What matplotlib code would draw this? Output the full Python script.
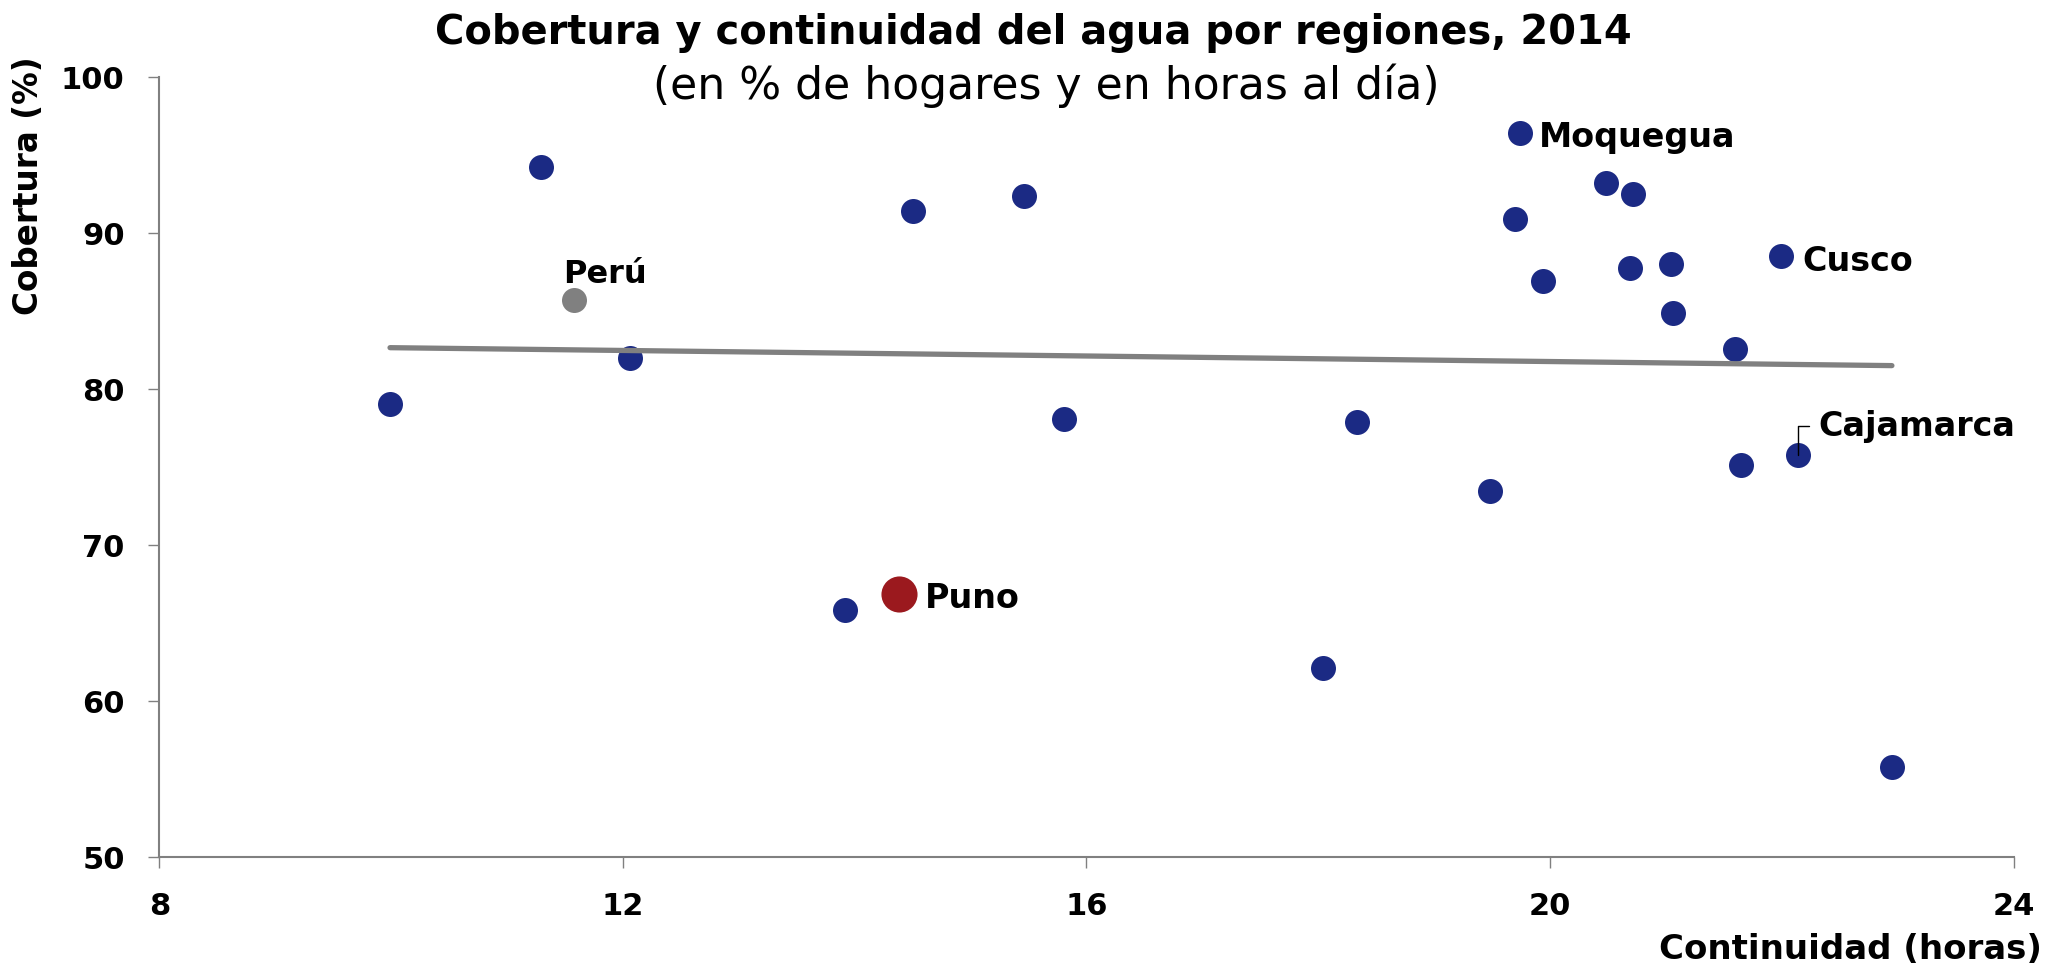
import matplotlib
matplotlib.use("Agg")
import matplotlib.pyplot as plt

plt.rcParams['font.family'] = ['DejaVu Sans']

# continuity (hours/day) and coverage (% households) by region
horas = [11.29, 14.50, 12.06, 15.46, 19.74, 20.48, 20.72, 19.70, 21.99, 21.04,
         20.69, 19.94, 21.06, 21.60, 15.81, 18.33, 19.48, 21.65, 22.14, 9.99,
         13.92, 18.04, 22.95]
cobertura = [94.24, 91.42, 81.98, 92.36, 96.43, 93.22, 92.51, 90.93, 88.51, 88.04,
             87.74, 86.93, 84.90, 82.55, 78.05, 77.88, 73.47, 75.10, 75.74, 79.06,
             65.85, 62.09, 55.76]
regiones = ['', '', '', '', 'Moquegua', '', '', '', 'Cusco', '',
            '', '', '', '', '', '', '', '', 'Cajamarca', '',
            '', '', '']

# national average and Puno highlighted
peru_x, peru_y = 11.58, 85.73
puno_x, puno_y = 14.38, 66.86

# linear trend
trend_x = [9.99, 22.95]
trend_y = [82.65, 81.50]

azul = '#1B2A84'
rojo = '#9B191E'
gris = '#808080'

fig = plt.figure(figsize=(20.65, 9.76), dpi=100)
ax = fig.add_axes([0.0772, 0.1219, 0.8979, 0.7992])

ax.scatter(horas, cobertura, s=324, color=azul, linewidths=0, zorder=2)
ax.scatter([peru_x], [peru_y], s=324, color=gris, linewidths=0, zorder=2)
ax.scatter([puno_x], [puno_y], s=676, color=rojo, linewidths=0, zorder=2)
ax.plot(trend_x, trend_y, color=gris, lw=3.8, solid_capstyle='round', zorder=3)

lbl = dict(fontsize=24, fontweight='bold', color='black',
           textcoords='offset points', va='center_baseline')
for x, y, name in zip(horas, cobertura, regiones):
    if name == 'Moquegua':
        ax.annotate(name, (x, y), xytext=(14, -1), ha='left', **lbl)
    elif name == 'Cusco':
        ax.annotate(name, (x, y), xytext=(15.5, -1), ha='left', **lbl)
    elif name == 'Cajamarca':
        ax.annotate(name, (x, y), xytext=(15, 23.5), ha='left',
                    arrowprops=dict(arrowstyle='-', color='black', lw=1,
                                    connectionstyle='angle,angleA=0,angleB=90,rad=0',
                                    relpos=(0, 0.5), shrinkA=5, shrinkB=0),
                    **lbl)
ax.annotate('Puno', (puno_x, puno_y), xytext=(18.5, -1), ha='left', **lbl)
ax.annotate('Perú', (peru_x, peru_y), xytext=(-8, 12), ha='left',
            fontsize=23, fontweight='bold', color='black',
            textcoords='offset points', va='baseline')

ax.set_xlim(8, 24)
ax.set_ylim(50, 100)
ax.set_xticks([8, 12, 16, 20, 24])
ax.set_yticks([50, 60, 70, 80, 90, 100])

for s in ['top', 'right']:
    ax.spines[s].set_visible(False)
for s in ['left', 'bottom']:
    ax.spines[s].set_color(gris)
    ax.spines[s].set_linewidth(1.5)
ax.tick_params(axis='both', direction='out', length=8, width=1, color=gris,
               labelsize=22, pad=17)
for t in ax.get_xticklabels() + ax.get_yticklabels():
    t.set_fontweight('bold')

fig.text(0.5005, 0.955, 'Cobertura y continuidad del agua por regiones, 2014',
         ha='center', va='baseline', fontsize=28.8, fontweight='bold')
fig.text(0.5065, 0.899, '(en % de hogares y en horas al día)',
         ha='center', va='baseline', fontsize=31.8)
fig.text(0.0136, 0.81, 'Cobertura (%)', rotation=90, ha='center', va='center',
         fontsize=23.5, fontweight='bold')
fig.text(0.989, 0.027, 'Continuidad (horas)', ha='right', va='center',
         fontsize=24.5, fontweight='bold')

fig.savefig('out.png', dpi=100)
